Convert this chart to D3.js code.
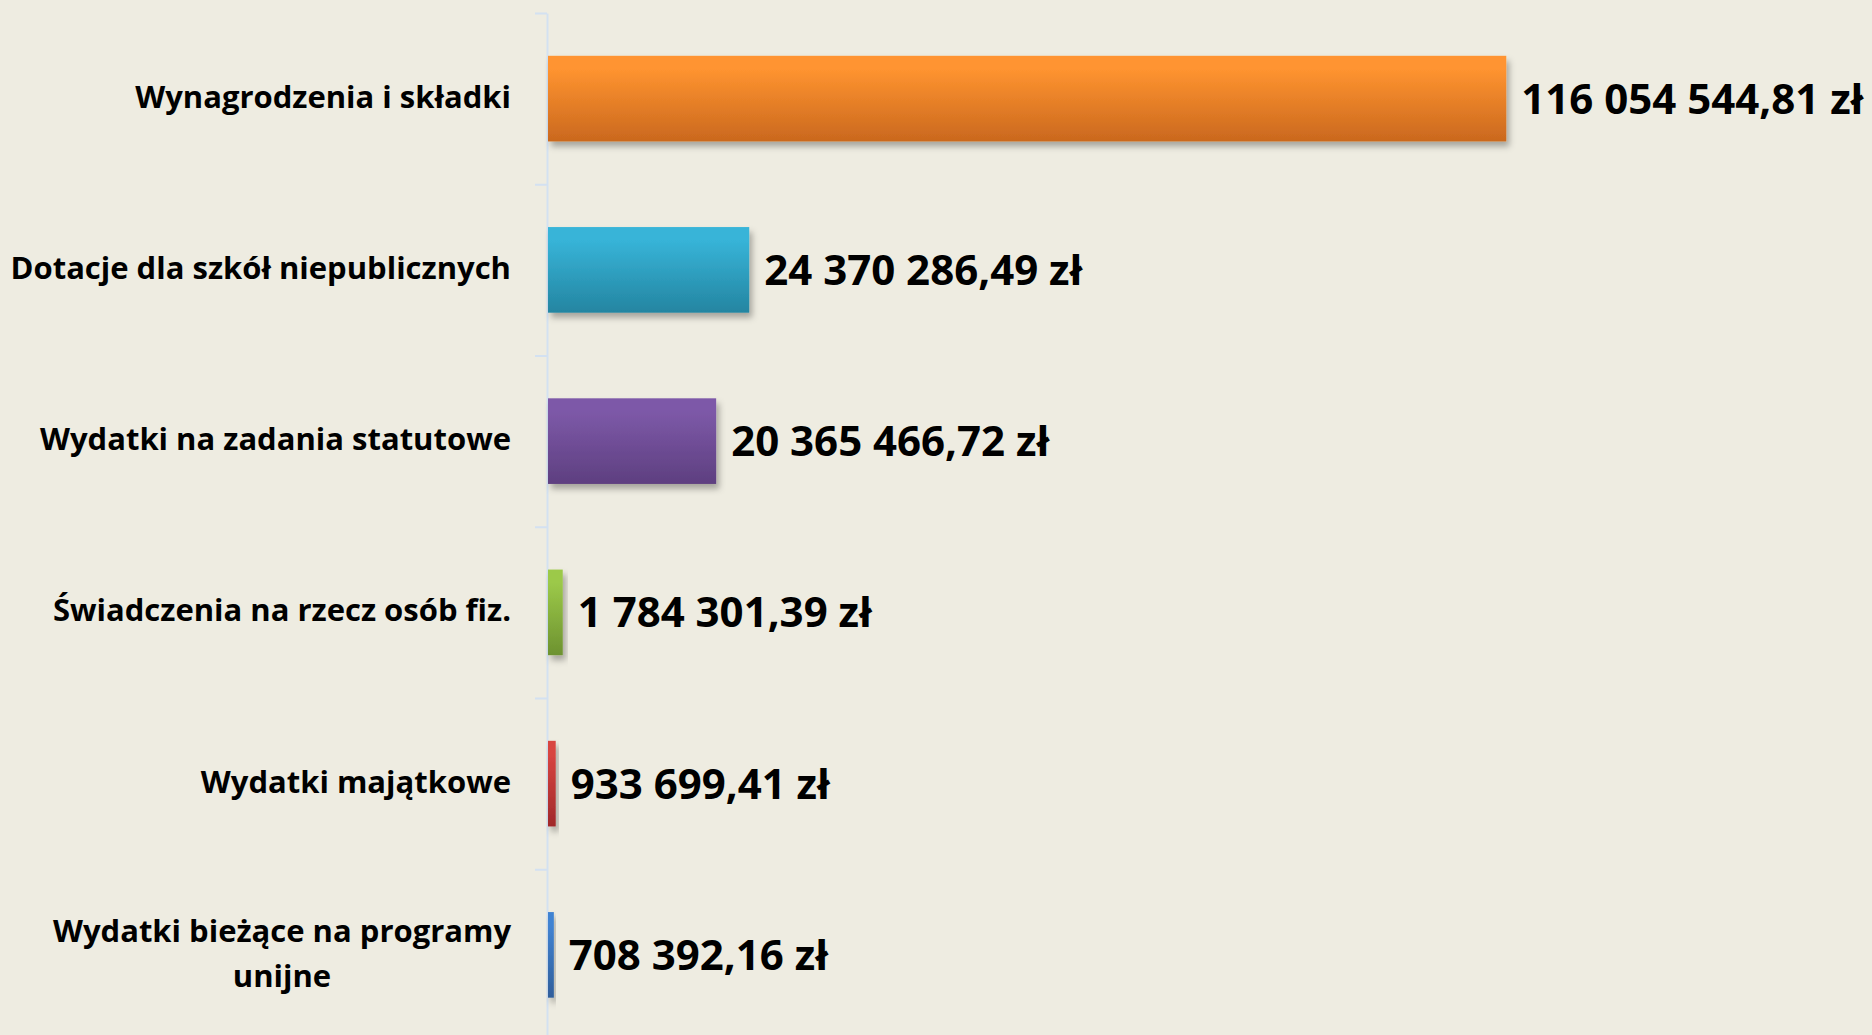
<!DOCTYPE html>
<html>
<head>
<meta charset="utf-8">
<script src="https://cdn.jsdelivr.net/npm/d3@7"></script>
<style>
  html, body { margin: 0; padding: 0; background: #EEECE1; }
  svg { display: block; font-family: "Open Sans", "DejaVu Sans", sans-serif; font-weight: 700; }
</style>
</head>
<body>
<script>
const categories = [
    "Wynagrodzenia i składki",
    "Dotacje dla szkół niepublicznych",
    "Wydatki na zadania statutowe",
    "Świadczenia na rzecz osób fiz.",
    "Wydatki majątkowe",
    "Wydatki bieżące na programy unijne"
];
const values = [116054544.81, 24370286.49, 20365466.72, 1784301.39, 933699.41, 708392.16];
const valueLabels = ["116 054 544,81 zł", "24 370 286,49 zł", "20 365 466,72 zł", "1 784 301,39 zł", "933 699,41 zł", "708 392,16 zł"];
// top / bottom colour of each bar's gradient
const colorsTop = ["#FF9430", "#37B4D8", "#7D59A8", "#9CC949", "#D84541", "#4183D2"];
const colorsBottom = ["#CA681E", "#2485A1", "#5E3F80", "#6D9230", "#A0282A", "#2F5E9B"];

let width = 1872, height = 1035;
let axisX = 547, plotTop = 13, step = 171.25;

const svg = d3.select("body").append("svg")
    .attr("width", width)
    .attr("height", height);

const defs = svg.append("defs");

defs.append("filter")
    .attr("id", "shadow")
    .attr("x", "-20%").attr("y", "-20%")
    .attr("width", "150%").attr("height", "160%")
  .append("feDropShadow")
    .attr("dx", 3).attr("dy", 5)
    .attr("stdDeviation", 3)
    .attr("flood-color", "#000")
    .attr("flood-opacity", 0.3);

colorsTop.forEach((c, i) => {
    const g = defs.append("linearGradient")
        .attr("id", "grad" + i)
        .attr("x1", 0).attr("y1", 0).attr("x2", 0).attr("y2", 1);
    g.append("stop").attr("offset", "0%").attr("stop-color", c);
    g.append("stop").attr("offset", "15%").attr("stop-color", c);
    g.append("stop").attr("offset", "100%").attr("stop-color", colorsBottom[i]);
});

const y = d3.scaleBand()
    .domain(categories)
    .range([plotTop, plotTop + step * categories.length])
    .paddingInner(0.5)
    .paddingOuter(0.25);

const x = d3.scaleLinear()
    .domain([0, 140000000])
    .range([axisX + 1, axisX + 1 + 1156]);

// category axis: ticks sit on the band boundaries
const yEdges = d3.scaleLinear()
    .domain([0, categories.length])
    .range([plotTop, plotTop + step * categories.length]);

const axis = svg.append("g")
    .attr("class", "axis")
    .attr("transform", "translate(" + axisX + ",0)")
    .call(d3.axisLeft(yEdges).ticks(categories.length).tickFormat("").tickSize(12).tickSizeOuter(0));

axis.select(".domain").attr("stroke", "#D3E1F1").attr("stroke-width", 2);
axis.selectAll(".tick line").attr("stroke", "#D3E1F1").attr("stroke-width", 2);

const bars = svg.selectAll(".bar")
    .data(values)
    .enter()
    .append("rect")
    .attr("class", "bar")
    .attr("x", x(0))
    .attr("y", (d, i) => y(categories[i]))
    .attr("width", d => x(d) - x(0))
    .attr("height", y.bandwidth())
    .attr("fill", (d, i) => "url(#grad" + i + ")")
    .attr("filter", "url(#shadow)");

svg.selectAll(".value")
    .data(values)
    .enter()
    .append("text")
    .attr("class", "value")
    .attr("x", d => x(d) + 15)
    .attr("y", (d, i) => y(categories[i]) + y.bandwidth() / 2 + 15)
    .attr("font-size", "42px")
    .attr("fill", "#000")
    .text((d, i) => valueLabels[i]);

// category labels, the long one is wrapped on two centred lines
const labels = svg.selectAll(".label")
    .data(categories)
    .enter()
    .append("text")
    .attr("class", "label")
    .attr("font-size", "31px")
    .attr("fill", "#000");

labels.each(function(d, i) {
    const t = d3.select(this);
    const cy = y(d) + y.bandwidth() / 2;
    if (i === categories.length - 1) {
        t.attr("text-anchor", "middle");
        t.append("tspan").attr("x", 282).attr("y", cy - 13).text("Wydatki bieżące na programy");
        t.append("tspan").attr("x", 282).attr("y", cy + 32).text("unijne");
    } else {
        t.attr("text-anchor", "end")
            .attr("x", 511)
            .attr("y", cy + 9)
            .text(d);
    }
});
</script>
</body>
</html>
